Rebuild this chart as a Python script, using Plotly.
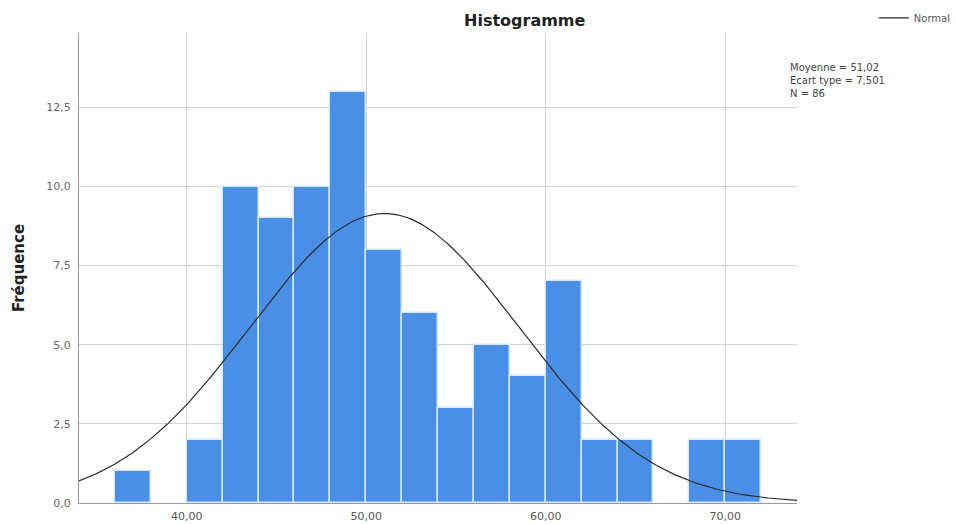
import numpy as np
import plotly.graph_objects as go

bin_starts = [36, 38, 40, 42, 44, 46, 48, 50, 52, 54, 56, 58, 60, 62, 64, 66, 68, 70]
counts = [1, 0, 2, 10, 9, 10, 13, 8, 6, 3, 5, 4, 7, 2, 2, 0, 2, 2]
bin_width = 2
mean_val = 51.02
sd_val = 7.501
n_val = 86
x_ticks = [40, 50, 60, 70]
x_tick_labels = ["40,00", "50,00", "60,00", "70,00"]
y_ticks = [0, 2.5, 5, 7.5, 10, 12.5]
y_tick_labels = ["0,0", "2,5", "5,0", "7,5", "10,0", "12,5"]

centers = [s + bin_width / 2 for s in bin_starts]
edge_widths = [1.5 if c > 0 else 0 for c in counts]

xs = np.linspace(34, 74, 400)
ys = n_val * bin_width * np.exp(-0.5 * ((xs - mean_val) / sd_val) ** 2) / (sd_val * np.sqrt(2 * np.pi))

FONT = "DejaVu Sans, Liberation Sans, Arial, sans-serif"

fig = go.Figure()
fig.add_trace(go.Bar(
    x=centers, y=counts, width=bin_width,
    marker=dict(color="#4a8fe6", line=dict(color="#d6e8fb", width=edge_widths)),
    showlegend=False, hoverinfo="x+y",
))
fig.add_trace(go.Scatter(
    x=xs, y=ys, mode="lines", name="Normal",
    line=dict(color="#2b2b2b", width=1.2),
))

fig.update_layout(
    width=956, height=524,
    margin=dict(l=79, r=159, t=33, b=21, autoexpand=False),
    paper_bgcolor="white", plot_bgcolor="white",
    font=dict(family=FONT, color="#444"),
    bargap=0,
    legend=dict(x=0.914, y=0.966, xref="container", yref="container",
                xanchor="left", yanchor="middle",
                font=dict(size=10, color="#555"), bgcolor="rgba(0,0,0,0)",
                itemwidth=30),
    annotations=[
        dict(text="<b>Histogramme</b>", x=0.621, xref="paper", y=1.027, yref="paper",
             xanchor="center", yanchor="middle", showarrow=False,
             font=dict(size=16, color="#222", family=FONT)),
        dict(text="Moyenne = 51,02<br>Ecart type = 7,501<br>N = 86",
             x=1.0, xref="paper", y=0.899, yref="paper", xshift=-9,
             xanchor="left", yanchor="middle", align="left", showarrow=False,
             font=dict(size=10, color="#444", family=FONT)),
    ],
)

fig.update_xaxes(
    range=[34, 74], tickvals=x_ticks, ticktext=x_tick_labels,
    showgrid=True, gridcolor="#d4d4d4", gridwidth=1,
    showline=True, linecolor="#999", linewidth=1,
    ticks="outside", ticklen=3, tickcolor="rgba(0,0,0,0)",
    tickfont=dict(size=11, color="#555"), zeroline=False,
)
fig.update_yaxes(
    range=[0, 14.85], tickvals=y_ticks, ticktext=y_tick_labels,
    showgrid=True, gridcolor="#d4d4d4", gridwidth=1,
    showline=True, linecolor="#999", linewidth=1,
    ticks="outside", ticklen=5, tickcolor="rgba(0,0,0,0)",
    tickfont=dict(size=11, color="#666"), zeroline=False,
    title=dict(text="<b>Fréquence</b>", font=dict(size=15, color="#222"), standoff=18),
)

fig.write_html("out.html")
